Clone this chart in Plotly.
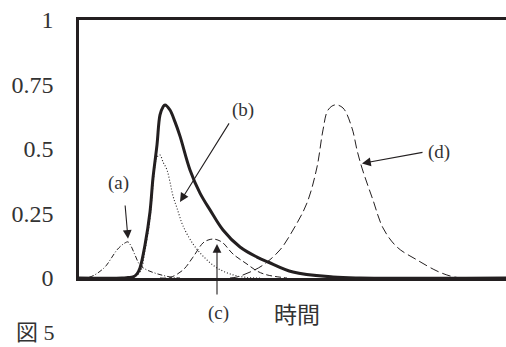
import plotly.graph_objects as go

# time axis (arbitrary units) and relative values
solid_t = [0, 43, 49, 54, 58, 61, 66, 71, 74, 78, 81, 84, 86, 91, 96, 101, 111, 121, 131, 144, 161, 178, 189, 214, 254, 281, 427]
solid_y = [0, 0, 0.002, 0.004, 0.016, 0.039, 0.128, 0.256, 0.388, 0.516, 0.632, 0.663, 0.671, 0.651, 0.605, 0.550, 0.419, 0.329, 0.264, 0.186, 0.120, 0.081, 0.062, 0.023, 0.004, 0, 0]

b_t = [0, 51, 61, 66, 71, 74, 77, 79, 81, 84, 88, 91, 94, 98, 104, 114, 124, 138, 154, 168, 181]
b_y = [0, 0, 0.023, 0.109, 0.233, 0.360, 0.457, 0.473, 0.477, 0.450, 0.419, 0.372, 0.318, 0.271, 0.202, 0.132, 0.085, 0.039, 0.012, 0.002, 0]

a_t = [0, 11, 20, 27, 33, 38, 43, 46, 49, 52, 56, 61, 68, 76, 84, 94, 101]
a_y = [0, 0.004, 0.023, 0.047, 0.081, 0.109, 0.128, 0.136, 0.140, 0.124, 0.089, 0.050, 0.031, 0.019, 0.010, 0.002, 0]

c_t = [81, 91, 104, 114, 124, 129, 134, 139, 144, 154, 168, 178, 188, 208]
c_y = [0, 0.002, 0.031, 0.081, 0.136, 0.147, 0.151, 0.147, 0.136, 0.093, 0.054, 0.027, 0.012, 0]

d_t = [151, 158, 171, 184, 201, 214, 228, 238, 244, 249, 256, 264, 273, 278, 283, 294, 304, 318, 338, 358, 371, 381]
d_y = [0, 0.004, 0.023, 0.050, 0.109, 0.186, 0.291, 0.430, 0.574, 0.651, 0.671, 0.659, 0.581, 0.496, 0.426, 0.302, 0.194, 0.120, 0.070, 0.027, 0.008, 0]

y_ticks = [0, 0.25, 0.5, 0.75, 1]
y_tick_text = ["0", "0.25", "0.5", "0.75", "1"]

INK = "#231f20"
TEXT = "#333333"

fig = go.Figure()
fig.add_trace(go.Scatter(x=a_t, y=a_y, mode="lines", line=dict(color=INK, width=1, dash="5px,2px,1px,2px", shape="spline")))
fig.add_trace(go.Scatter(x=c_t, y=c_y, mode="lines", line=dict(color=INK, width=1, dash="6px,3px", shape="spline")))
fig.add_trace(go.Scatter(x=d_t, y=d_y, mode="lines", line=dict(color=INK, width=1, dash="9px,4px", shape="spline")))
fig.add_trace(go.Scatter(x=b_t, y=b_y, mode="lines", line=dict(color=INK, width=1.1, dash="1px,2px", shape="spline")))
fig.add_trace(go.Scatter(x=solid_t, y=solid_y, mode="lines", line=dict(color=INK, width=3, shape="spline")))

label_font = dict(family="Liberation Serif", size=19, color=TEXT)

def arrow(tail, head):
    fig.add_annotation(x=head[0], y=head[1], ax=tail[0], ay=tail[1], xref="x", yref="y",
                       axref="x", ayref="y", text="", showarrow=True, arrowhead=2,
                       arrowsize=1.6, arrowwidth=1.1, arrowcolor=INK, standoff=0, startstandoff=0)

def label(pos, txt, font=label_font):
    fig.add_annotation(x=pos[0], y=pos[1], xref="x", yref="paper", xanchor="center", yanchor="middle",
                       text=txt, showarrow=False, font=font)

arrow((46, 0.287), (49, 0.152))
arrow((151, 0.605), (101, 0.295))
arrow((138, -0.07), (138, 0.132))
arrow((345, 0.488), (283, 0.444))

label((39, 0.368), "(a)")
label((164, 0.651), "(b)")
label((139, -0.136), "(c)")
label((360, 0.488), "(d)")
label((218, -0.136), "時間", dict(family="Noto Sans CJK JP", size=23, color=TEXT))

fig.add_annotation(x=-0.150, y=-0.265, xref="paper", yref="paper", xanchor="left", yanchor="bottom",
                   text="図 5", showarrow=False, borderpad=0,
                   font=dict(family="Liberation Serif, Noto Sans CJK JP", size=22, color=TEXT))

fig.update_layout(
    width=506, height=347,
    margin=dict(l=79, r=0, t=20, b=69),
    paper_bgcolor="white", plot_bgcolor="white",
    showlegend=False,
)
fig.update_xaxes(range=[0, 427], showgrid=False, zeroline=False, showticklabels=False, ticks="",
                 showline=True, linewidth=2.5, linecolor=INK, mirror=True)
fig.update_yaxes(range=[0, 1], showgrid=False, zeroline=False, tickvals=y_ticks, ticktext=y_tick_text,
                 ticks="", ticklabelstandoff=18, showline=True, linewidth=2.5, linecolor=INK,
                 tickfont=dict(family="Liberation Serif", size=24, color=TEXT))

fig.write_html("out.html")
